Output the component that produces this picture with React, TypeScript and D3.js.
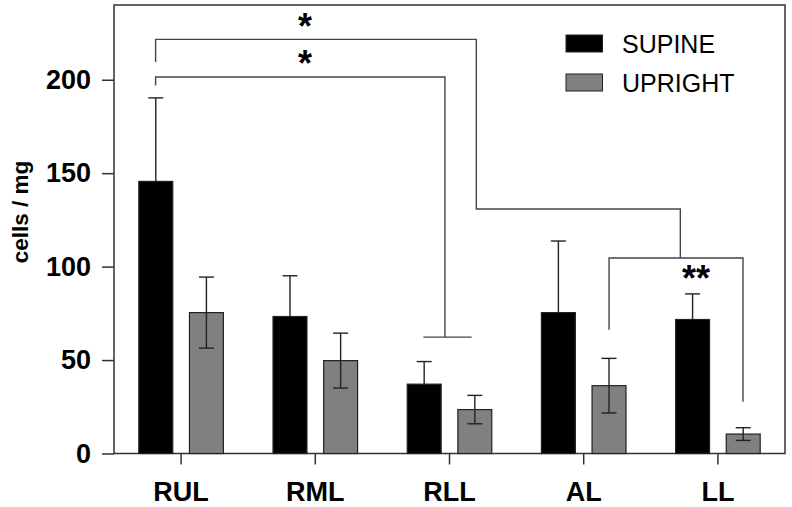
import React, { useEffect, useRef } from "react";
import * as d3 from "d3";

// lung regions and posture groups
const regions = ["RUL", "RML", "RLL", "AL", "LL"];
const postures = ["SUPINE", "UPRIGHT"];
const supineMean = [145.6, 73.3, 37.1, 75.4, 71.7];
const supineErr = [44.7, 21.8, 12.1, 38.3, 13.7];
const uprightMean = [75.4, 49.7, 23.5, 36.3, 10.4];
const uprightErr = [19.0, 14.7, 7.6, 14.6, 3.4];
const yTicks = [0, 50, 100, 150, 200];

// significance brackets: [region, fraction of band, value]
const bracketA = [["RUL", 0.31, 209.5], ["RUL", 0.31, 221.6], ["RLL", 0.7, 221.6], ["RLL", 0.7, 130.8], ["LL", 0.22, 130.8], ["LL", 0.22, 104.6]];
const bracketB = [["RUL", 0.31, 196.9], ["RUL", 0.31, 201.5], ["RLL", 0.466, 201.5], ["RLL", 0.466, 62.3]];
const bracketBFoot = [["RLL", 0.305, 62.3], ["RLL", 0.665, 62.3]];
const bracketC = [["AL", 0.689, 66.2], ["AL", 0.689, 104.6], ["LL", 0.687, 104.6], ["LL", 0.687, 27.7]];
const stars = [["RML", 0.423, 229.5, "*"], ["RML", 0.423, 209.4, "*"], ["LL", 0.337, 94.3, "**"]];

const App = () => {
    const svgRef = useRef();

    useEffect(() => {
        const width = 792, height = 507;
        const margin = { top: 5, right: 7, bottom: 53.5, left: 114 };
        const font = "'Liberation Sans', Arial, sans-serif";

        const svg = d3.select(svgRef.current);
        svg.selectAll("*").remove();

        const x0 = d3.scaleBand()
            .domain(regions)
            .range([margin.left, width - margin.right]);

        const x1 = d3.scaleBand()
            .domain(postures)
            .range([0, x0.bandwidth()])
            .paddingInner(0.33)
            .paddingOuter(0.49);

        const y = d3.scaleLinear()
            .domain([0, 240])
            .range([height - margin.bottom, margin.top]);

        const xAt = (r, f) => x0(r) + f * x0.bandwidth();

        const data = regions.map((r, i) => ([
            { region: r, posture: "SUPINE", mean: supineMean[i], err: supineErr[i] },
            { region: r, posture: "UPRIGHT", mean: uprightMean[i], err: uprightErr[i] }
        ])).flat();

        const fill = { SUPINE: "#000000", UPRIGHT: "#808080" };

        // frame
        svg.append("rect")
            .attr("x", margin.left)
            .attr("y", margin.top)
            .attr("width", width - margin.left - margin.right)
            .attr("height", height - margin.top - margin.bottom)
            .attr("fill", "none")
            .attr("stroke", "#333")
            .attr("stroke-width", 1.5);

        // bars
        svg.append("g")
            .selectAll("rect")
            .data(data)
            .join("rect")
            .attr("x", d => x0(d.region) + x1(d.posture))
            .attr("y", d => y(d.mean))
            .attr("width", x1.bandwidth())
            .attr("height", d => y(0) - y(d.mean))
            .attr("fill", d => fill[d.posture])
            .attr("stroke", "#222")
            .attr("stroke-width", 1.2);

        // error bars
        const eg = svg.append("g").attr("stroke", "#222").attr("stroke-width", 1.4);
        data.forEach(d => {
            const cx = x0(d.region) + x1(d.posture) + x1.bandwidth() / 2;
            const lo = d.posture === "SUPINE" ? d.mean : d.mean - d.err;
            eg.append("line").attr("x1", cx).attr("x2", cx).attr("y1", y(lo)).attr("y2", y(d.mean + d.err));
            eg.append("line").attr("x1", cx - 7.5).attr("x2", cx + 7.5).attr("y1", y(d.mean + d.err)).attr("y2", y(d.mean + d.err));
            if (d.posture === "UPRIGHT") {
                eg.append("line").attr("x1", cx - 7.5).attr("x2", cx + 7.5).attr("y1", y(lo)).attr("y2", y(lo));
            }
        });

        // y axis
        const yAxis = svg.append("g")
            .attr("transform", `translate(${margin.left},0)`)
            .call(d3.axisLeft(y).tickValues(yTicks).tickSize(12).tickPadding(11));
        yAxis.select(".domain").remove();
        yAxis.selectAll("line").attr("stroke", "#333").attr("stroke-width", 1.5);
        yAxis.selectAll("text")
            .attr("fill", "#000")
            .style("font-family", font)
            .style("font-size", "27px")
            .style("font-weight", "bold");

        // x axis
        const xAxis = svg.append("g")
            .attr("transform", `translate(0,${y(0)})`)
            .call(d3.axisBottom(x0).tickSize(11).tickPadding(17));
        xAxis.select(".domain").remove();
        xAxis.selectAll("line").attr("stroke", "#333").attr("stroke-width", 1.5);
        xAxis.selectAll("text")
            .attr("fill", "#000")
            .style("font-family", font)
            .style("font-size", "27px")
            .style("font-weight", "bold");

        svg.append("text")
            .attr("transform", `translate(28,212) rotate(-90)`)
            .attr("text-anchor", "middle")
            .style("font-family", font)
            .style("font-size", "22.5px")
            .style("font-weight", "bold")
            .text("cells / mg");

        // brackets
        const line = d3.line()
            .x(d => xAt(d[0], d[1]))
            .y(d => y(d[2]));
        [bracketA, bracketB, bracketBFoot, bracketC].forEach(b => {
            svg.append("path")
                .datum(b)
                .attr("d", line)
                .attr("fill", "none")
                .attr("stroke", "#444")
                .attr("stroke-width", 1.4);
        });

        svg.append("g")
            .selectAll("text")
            .data(stars)
            .join("text")
            .attr("x", d => xAt(d[0], d[1]))
            .attr("y", d => y(d[2]) + 14)
            .attr("text-anchor", "middle")
            .style("font-family", font)
            .style("font-size", "36px")
            .style("font-weight", "bold")
            .text(d => d[3]);

        // legend
        const legend = svg.append("g");
        postures.forEach((p, i) => {
            legend.append("rect")
                .attr("x", 566)
                .attr("y", 35 + i * 39)
                .attr("width", 36.5)
                .attr("height", 17)
                .attr("fill", fill[p])
                .attr("stroke", "#222")
                .attr("stroke-width", 1);
            legend.append("text")
                .attr("x", 622)
                .attr("y", 53 + i * 38.5)
                .style("font-family", font)
                .style("font-size", "25px")
                .text(p);
        });
    }, []);

    return (
        <svg ref={svgRef} width="792" height="507" style={{ position: "absolute", left: 0, top: 0, background: "#fff" }}></svg>
    );
};

export default App;
